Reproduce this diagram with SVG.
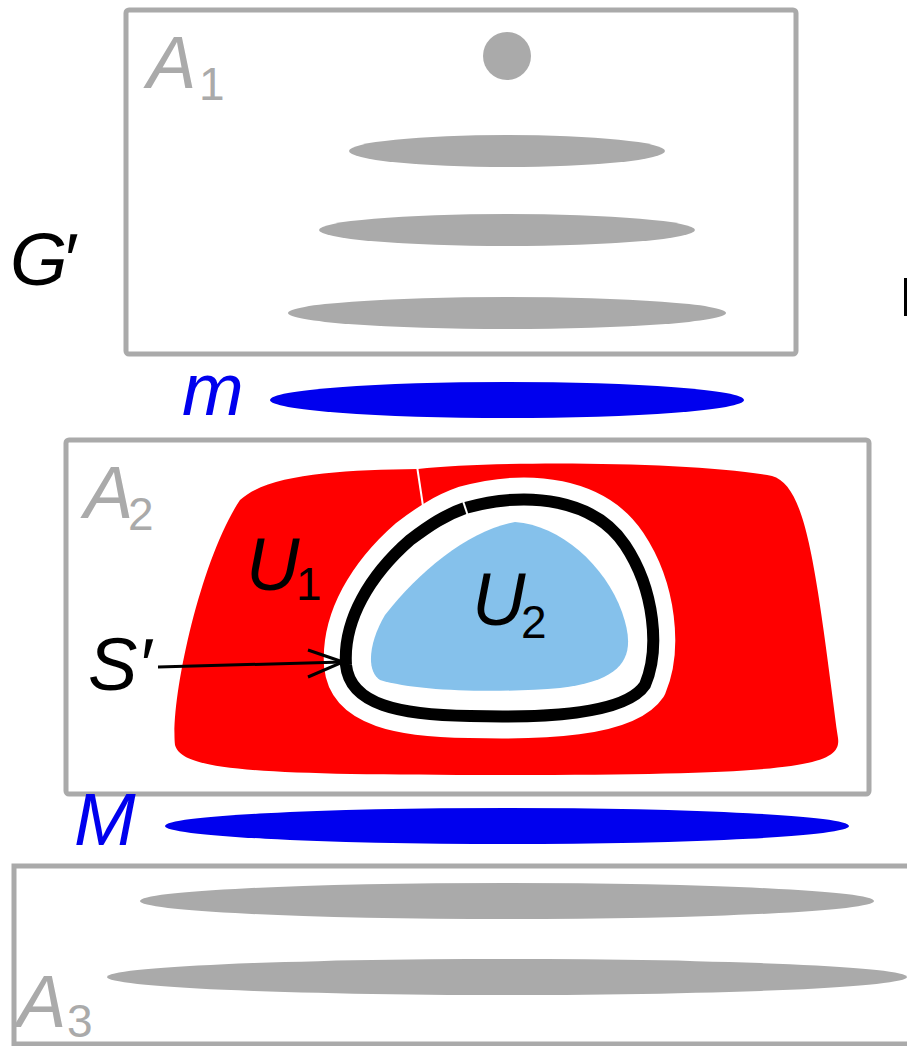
<svg xmlns="http://www.w3.org/2000/svg" width="907" height="1046" viewBox="0 0 907 1046">
<style>
.box{fill:none;stroke:#aaaaaa;stroke-width:5}
.gray{fill:#aaaaaa}
.blue{fill:#0000ee}
.lbl{font-family:"Liberation Sans",Arial,sans-serif;font-style:italic;font-size:74px}
.sub{font-family:"Liberation Sans",Arial,sans-serif;font-size:46px}
.g{fill:#aaaaaa}
</style>
<rect width="907" height="1046" fill="#ffffff"/>
<g id="A1">
<rect class="box" x="126" y="10" width="670" height="344" rx="3"/>
<circle class="gray" cx="507" cy="56" r="24"/>
<ellipse class="gray" cx="507" cy="151" rx="158" ry="16"/>
<ellipse class="gray" cx="507" cy="230" rx="188" ry="16"/>
<ellipse class="gray" cx="507" cy="313" rx="219" ry="16"/>
<text class="lbl g" x="147" y="88">A</text><text class="sub g" x="199" y="100">1</text>
</g>
<g id="Gprime"><text class="lbl" x="10" y="285" letter-spacing="-6">G′</text></g>
<rect x="904" y="278" width="3" height="38" fill="#000"/>
<g id="m">
<text class="lbl" x="182" y="415" fill="#0000ee">m</text>
<ellipse class="blue" cx="507" cy="400" rx="237" ry="18"/>
</g>
<g id="A2">
<rect class="box" x="66" y="440" width="803" height="354" rx="3"/>
<text class="lbl g" x="84" y="518">A</text><text class="sub g" x="128" y="530">2</text>
<path fill="#ff0000" d="M240,500 C268,474 340,470 418,469 C500,460 700,462 772,476 C806,486 815,560 838,738 C842,766 800,775 500,775 C250,775 182,770 175,745 C170,700 200,560 240,500 Z"/>
<line x1="417" y1="466" x2="423" y2="506" stroke="#fff" stroke-width="2"/>
<path fill="#ffffff" stroke="#ffffff" stroke-width="44" stroke-linejoin="round" d="M465,508 C530,490 595,500 625,545 C655,590 660,650 645,685 C625,715 540,718 470,716 C400,715 350,705 346,665 C343,620 370,575 410,540 C430,525 445,515 465,508 Z"/>
<path fill="none" stroke="#000000" stroke-width="12" d="M465,508 C530,490 595,500 625,545 C655,590 660,650 645,685 C625,715 540,718 470,716 C400,715 350,705 346,665 C343,620 370,575 410,540 C430,525 445,515 465,508 Z"/>
<line x1="463" y1="501" x2="468" y2="516" stroke="#fff" stroke-width="2"/>
<path fill="#85c1eb" d="M515,522 C560,525 605,565 622,612 C636,652 630,680 560,688 C500,693 420,692 380,680 C365,670 370,640 385,615 C420,570 470,530 515,522 Z"/>
<text class="lbl" x="246" y="590">U</text><text class="sub" x="296" y="600">1</text>
<text class="lbl" x="472" y="625">U</text><text class="sub" x="521" y="638">2</text>
<text class="lbl" x="88" y="690">S′</text>
</g>
<g id="connectors">
<line x1="158" y1="667" x2="343" y2="662" stroke="#000" stroke-width="3"/>
<polyline points="308,650 343,662 308,677" fill="none" stroke="#000" stroke-width="3"/>
</g>
<g id="M">
<text class="lbl" x="74" y="845" fill="#0000ee">M</text>
<ellipse class="blue" cx="507" cy="826" rx="342" ry="18"/>
</g>
<g id="A3">
<path class="box" d="M912,866 L14,866 L14,1044 L912,1044"/>
<ellipse class="gray" cx="507" cy="901" rx="367" ry="18"/>
<ellipse class="gray" cx="507" cy="977" rx="400" ry="18"/>
<text class="lbl g" x="17" y="1027">A</text><text class="sub g" x="67" y="1037">3</text>
</g>
</svg>
